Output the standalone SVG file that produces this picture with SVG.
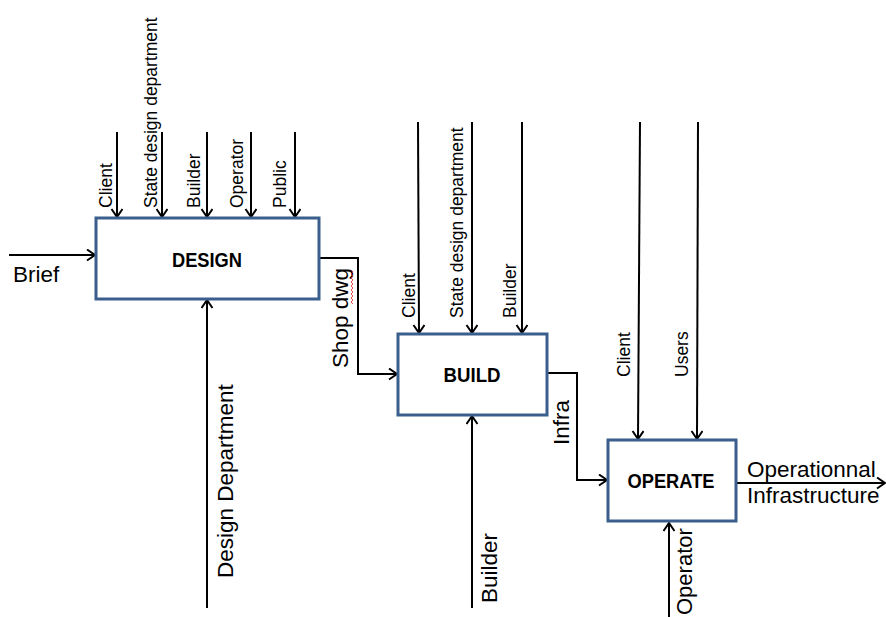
<svg xmlns="http://www.w3.org/2000/svg" width="886" height="617" viewBox="0 0 886 617">
  <defs>
    <marker id="arrow" markerUnits="userSpaceOnUse" markerWidth="14" markerHeight="14" refX="9" refY="6" orient="auto">
      <path d="M1,0.5 L9,6 L1,11.5" fill="none" stroke="#000" stroke-width="2"/>
    </marker>
  </defs>
  <style>
    .box { fill: #fff; stroke: #3b5f8c; stroke-width: 3; }
    .title { font-family: "Liberation Sans", Arial, sans-serif; font-weight: bold; font-size: 20px; fill: #000; text-anchor: middle; }
    .wire { fill: none; stroke: #000; stroke-width: 2; marker-end: url(#arrow); }
    .small { font-family: "Liberation Sans", Arial, sans-serif; font-size: 17.5px; fill: #000; }
    .big { font-family: "Liberation Sans", Arial, sans-serif; font-size: 22.5px; fill: #000; }
  </style>
  <rect width="886" height="617" fill="#fff"/>

  <!-- connectors -->
  <g id="connectors">
    <!-- DESIGN controls -->
    <path class="wire" d="M117,132 V217"/>
    <path class="wire" d="M162,132 V217"/>
    <path class="wire" d="M207,132 V217"/>
    <path class="wire" d="M251,132 V217"/>
    <path class="wire" d="M295,132 V217"/>
    <!-- DESIGN input and mechanism -->
    <path class="wire" d="M9,255 H95"/>
    <path class="wire" d="M207,608 V300"/>
    <!-- DESIGN -> BUILD -->
    <path class="wire" d="M320,258 H358 V374 H397"/>
    <!-- BUILD controls -->
    <path class="wire" d="M418,122 L419,333"/>
    <path class="wire" d="M472,122 V333"/>
    <path class="wire" d="M522,122 V333"/>
    <!-- BUILD mechanism -->
    <path class="wire" d="M472,608 V416"/>
    <!-- BUILD -> OPERATE -->
    <path class="wire" d="M548,373 H577 V480 H607"/>
    <!-- OPERATE controls -->
    <path class="wire" d="M640,122 L638,439"/>
    <path class="wire" d="M698,122 L697,439"/>
    <!-- OPERATE mechanism and output -->
    <path class="wire" d="M669,617 V523"/>
    <path class="wire" d="M737,483 H885"/>
  </g>

  <!-- connector labels -->
  <g id="labels">
    <text class="small" transform="translate(112,208) rotate(-90)">Client</text>
    <text class="small" transform="translate(157,208) rotate(-90)">State design  department</text>
    <text class="small" transform="translate(200,208) rotate(-90)">Builder</text>
    <text class="small" transform="translate(243,208) rotate(-90)">Operator</text>
    <text class="small" transform="translate(286,208) rotate(-90)">Public</text>
    <text class="big" x="13" y="282">Brief</text>
    <text class="big" transform="translate(233,578) rotate(-90)">Design Department</text>
    <text class="big" transform="translate(348,368) rotate(-90)">Shop dwg</text>
    <path d="M351,270 l2,2 l-2,2 l2,2 l-2,2 l2,2 l-2,2 l2,2 l-2,2 l2,2 l-2,2 l2,2 l-2,2 l2,2 l-2,2 l2,2 l-2,2 l2,2" fill="none" stroke="#e02020" stroke-width="0.8"/>
    <text class="small" transform="translate(415,318) rotate(-90)">Client</text>
    <text class="small" transform="translate(463,318) rotate(-90)">State design  department</text>
    <text class="small" transform="translate(516,318) rotate(-90)">Builder</text>
    <text class="big" transform="translate(497,603) rotate(-90)">Builder</text>
    <text class="big" transform="translate(569,445) rotate(-90)">Infra</text>
    <text class="small" transform="translate(630,377) rotate(-90)">Client</text>
    <text class="small" transform="translate(688,377) rotate(-90)">Users</text>
    <text class="big" style="font-size:22px" transform="translate(692,615) rotate(-90)">Operator</text>
    <text class="big" x="747" y="477">Operationnal</text>
    <text class="big" x="747" y="503">Infrastructure</text>
  </g>

  <!-- activity boxes -->
  <g id="design">
    <rect class="box" x="96" y="218" width="223" height="81"/>
    <text class="title" x="207" y="267" textLength="70" lengthAdjust="spacingAndGlyphs">DESIGN</text>
  </g>
  <g id="build">
    <rect class="box" x="398" y="334" width="149" height="81"/>
    <text class="title" x="472" y="382" textLength="57" lengthAdjust="spacingAndGlyphs">BUILD</text>
  </g>
  <g id="operate">
    <rect class="box" x="608" y="440" width="128" height="81"/>
    <text class="title" x="671" y="488" textLength="87" lengthAdjust="spacingAndGlyphs">OPERATE</text>
  </g>
</svg>
